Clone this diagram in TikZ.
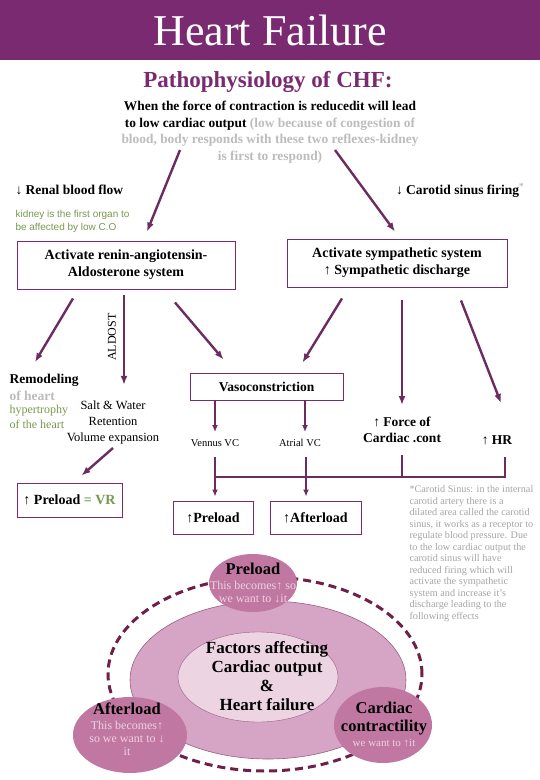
\documentclass[tikz,border=0pt]{standalone}
\usepackage{fontspec}
\setmainfont{Liberation Serif}
\newfontfamily\notefont{Liberation Sans}
\usetikzlibrary{positioning, shapes.geometric, arrows.meta}

\definecolor{hfpurple}{RGB}{122,42,112}
\definecolor{hfarrow}{RGB}{108,44,98}
\definecolor{softgray}{RGB}{188,188,188}
\definecolor{notegray}{RGB}{165,165,165}
\definecolor{leafgreen}{RGB}{118,152,78}
\definecolor{ringpink}{RGB}{214,164,196}
\definecolor{corepink}{RGB}{236,212,226}
\definecolor{petalpink}{RGB}{192,120,162}
\definecolor{petaltext}{RGB}{238,208,226}
\definecolor{dashplum}{RGB}{112,32,72}

\newcommand{\fsz}[2]{\fontsize{#1}{#2}\selectfont}

\begin{document}
\begin{tikzpicture}[x=1pt, y=-1pt, >={Latex[length=9pt, width=7pt]}]
	% Setup the styles
	\tikzset{box style/.style={draw=hfpurple, line width=0.9pt, align=center, inner sep=2pt},
			 flow/.style={->, draw=hfarrow, line width=2.4pt},
			 thin flow/.style={->, draw=hfarrow, line width=1.8pt, >={Latex[length=7pt, width=6pt]}},
			 link/.style={draw=hfarrow, line width=1.4pt},
			 petal/.style={ellipse, fill=petalpink, inner sep=0pt},
			 petal text/.style={align=center, font=\fsz{12}{13}, text=petaltext}}
	\useasboundingbox (0,0) rectangle (540,780);

	% Title and introduction
	\node[fill=hfpurple, text=white, minimum width=540, minimum height=60, inner sep=0pt,
		  font=\fsz{44}{48}] (banner) at (270,30) {Heart Failure};
	\node[text=hfpurple, font=\bfseries\fsz{23}{26}] (subtitle) at (268,82) {Pathophysiology of CHF:};
	\node[align=center, font=\bfseries\fsz{13.4}{16.5}] (intro) at (270,132)
		{When the force of contraction is reducedit will lead\\
		 to low cardiac output {\color{softgray}(low because of congestion of}\\
		 {\color{softgray}blood, body responds with these two reflexes-kidney}\\
		 {\color{softgray}is first to respond)}};
	\node[anchor=west, font=\bfseries\fsz{13.5}{16}] (renal) at (12,190) {↓ Renal blood flow};
	\node[anchor=east, font=\bfseries\fsz{13.5}{16}] (carotid) at (528,190)
		{↓ Carotid sinus firing{\color{softgray}\textsuperscript{*}}};
	\node[anchor=north west, align=left, text=leafgreen, font=\notefont\fsz{10}{13}] (kidney) at (12,207)
		{kidney is the first organ to\\be affected by low C.O};

	% Draw the two reflex boxes
	\node[box style, minimum width=218, minimum height=48, font=\bfseries\fsz{14}{17}] (raas) at (126,265)
		{Activate renin-angiotensin-\\Aldosterone system};
	\node[box style, minimum width=220, minimum height=48, font=\bfseries\fsz{14}{17}] (symp) at (397,263)
		{Activate sympathetic system\\↑ Sympathetic discharge};
	\draw[flow] ([shift={(-90,18)}]intro.center) -- ([shift={(21,-9)}]raas.north);
	\draw[flow] ([shift={(65,18)}]intro.center) -- ([shift={(-2,-7)}]symp.north);

	% Effects of the renin-angiotensin system
	\node[anchor=north west, align=left, font=\bfseries\fsz{13.5}{17}] (remodel) at (6,371)
		{Remodeling\\{\color{softgray}of heart}};
	\node[below=-3pt of remodel.south west, anchor=north west, align=left, text=leafgreen,
		  font=\fsz{12}{15}] (hyper) {hypertrophy\\of the heart};
	\node[align=center, font=\fsz{12.5}{16}] (salt) at (113,422) {Salt \& Water\\Retention\\Volume expansion};
	\node[rotate=90, font=\fsz{12}{14}] (aldost) at (112,337) {ALDOST};
	\node[box style, minimum width=153, minimum height=27, font=\bfseries\fsz{13.5}{16}] (vaso) at (266.5,386.5)
		{Vasoconstriction};
	\draw[flow] ([shift={(-53,9)}]raas.south) -- ([shift={(29,-9)}]remodel.north west);
	\draw[flow] ([shift={(-2,6)}]raas.south) -- ([shift={(11,-12)}]salt.north);
	\draw[flow] ([shift={(49,13)}]raas.south) -- ([shift={(-43,-13)}]vaso.north);

	% Effects of the sympathetic system
	\node[align=center, font=\bfseries\fsz{13.5}{16}] (force) at (402,430) {↑ Force of\\Cardiac .cont};
	\node[font=\bfseries\fsz{13.5}{16}] (hr) at (497,440) {↑ HR};
	\draw[flow] ([shift={(-55,11)}]symp.south) -- ([shift={(36,-10)}]vaso.north);
	\draw[flow] ([shift={(5,13)}]symp.south) -- ([shift={(0,-25)}]force.center);
	\draw[flow] ([shift={(64,13)}]symp.south) -- ([shift={(4,-37)}]hr.center);

	% Vasoconstriction and the loads
	\node[font=\fsz{10.5}{12}] (vennus) at (215,443) {Vennus VC};
	\node[font=\fsz{10.5}{12}] (atrial) at (300,443) {Atrial VC};
	\draw[thin flow] ([xshift=-51.5pt]vaso.south) -- ([shift={(0,-11)}]vennus.center);
	\draw[thin flow] ([xshift=38.5pt]vaso.south) -- ([shift={(5,-11)}]atrial.center);
	\node[box style, minimum width=105, minimum height=34, font=\bfseries\fsz{14}{16}] (prevr) at (69.5,500)
		{↑ Preload {\color{leafgreen}= VR}};
	\node[box style, minimum width=80, minimum height=33, font=\bfseries\fsz{14}{16}] (venpre) at (213,517.5)
		{↑Preload};
	\node[box style, minimum width=91, minimum height=33, font=\bfseries\fsz{14}{16}] (afterbox) at (315.5,517.5)
		{↑Afterload};
	\coordinate (bar) at (215,477);
	\draw[thin flow] ([shift={(0,14)}]vennus.center) -- ([shift={(2,-4)}]venpre.north);
	\draw[thin flow] ([shift={(6,14)}]atrial.center) -- ([shift={(-9.5,-4)}]afterbox.north);
	\draw[link] ([shift={(8,17)}]hr.center) |- (bar);
	\draw[link] ([shift={(0,25)}]force.center) -- (force.center |- bar);
	\draw[flow] ([shift={(0,26)}]salt.center) -- ([shift={(12,-7)}]prevr.north);

	% Footnote
	\node[anchor=north west, align=left, text=notegray, font=\fsz{10.2}{11.5}] (footnote) at (406,482)
		{*Carotid Sinus: in the internal\\carotid artery there is a\\dilated area called the carotid\\
		 sinus, it works as a receptor to\\regulate blood pressure. Due\\to the low cardiac output the\\
		 carotid sinus will have\\reduced firing which will\\activate the sympathetic\\
		 system and increase it's\\discharge leading to the\\following effects};

	% Factors affecting cardiac output
	\node[ellipse, draw=dashplum, line width=3pt, dash pattern=on 8pt off 5pt, inner sep=0pt,
		  minimum width=314, minimum height=194] (loop) at (265,674) {};
	\node[ellipse, fill=ringpink, draw=petalpink!80!black, line width=0.6pt, inner sep=0pt,
		  minimum width=276, minimum height=158] (ring) at (268,680) {};
	\node[ellipse, fill=corepink, draw=petalpink!80!black, line width=0.4pt, inner sep=0pt,
		  minimum width=160, minimum height=90] (core) at (258,677) {};
	\node[align=center, font=\bfseries\fsz{17}{19}] (coretext) at (267,676)
		{Factors affecting\\Cardiac output\\\&\\Heart failure};
	\node[petal, minimum width=88, minimum height=58] (prepetal) at (253,583) {};
	\node[petal, minimum width=114, minimum height=76] (afterpetal) at (130,735) {};
	\node[petal, minimum width=98, minimum height=76] (contpetal) at (383,725) {};
	\node[petal text] (pretext) at (prepetal.center)
		{{\color{black}\bfseries\fsz{16.5}{19}Preload}\\[2pt]This becomes↑ so\\we want to ↓it};
	\node[petal text] (aftertext) at ([shift={(-3,-6)}]afterpetal.center)
		{{\color{black}\bfseries\fsz{16.5}{19}Afterload}\\[2pt]This becomes↑\\so we want to ↓\\it};
	\node[petal text, font=\fsz{11}{13}] (conttext) at ([shift={(1,-1)}]contpetal.center)
		{{\color{black}\bfseries\fsz{16.5}{19}Cardiac}\\[5pt]{\color{black}\bfseries\fsz{16.5}{19}contractility}\\[2pt]we want to ↑it};
\end{tikzpicture}
\end{document}
